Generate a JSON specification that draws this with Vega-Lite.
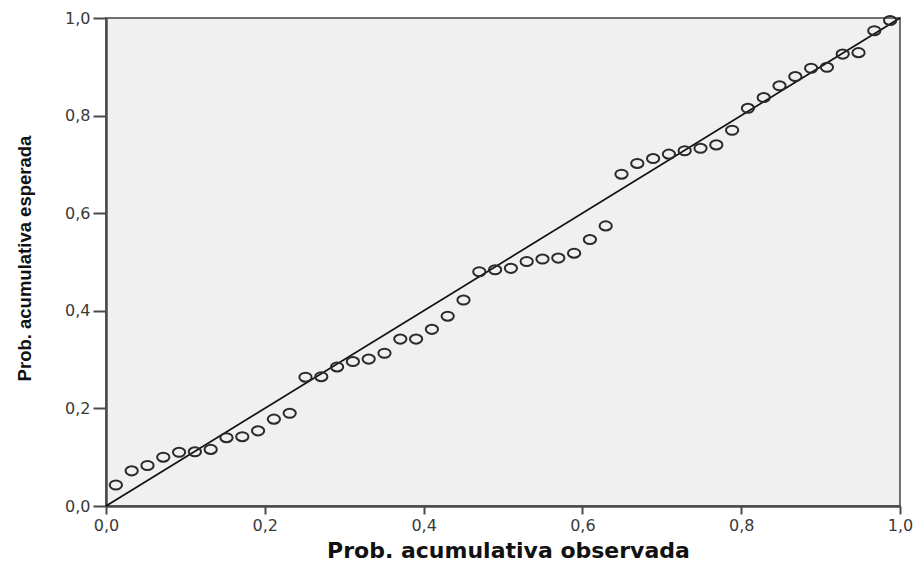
{
  "$schema": "https://vega.github.io/schema/vega-lite/v6.json",
  "width": 794,
  "height": 488,
  "autosize": {"type": "none"},
  "padding": {"left": 106, "top": 18, "right": 14, "bottom": 56},
  "background": "white",
  "config": {
    "view": {"fill": "#F0F0F0", "stroke": "#707070", "strokeWidth": 2},
    "axis": {
      "grid": false,
      "labelFont": "DejaVu Sans",
      "labelFontSize": 16,
      "labelColor": "#3a3a3a",
      "domainColor": "#4a4a4a",
      "domainWidth": 2.5,
      "tickColor": "#4a4a4a",
      "tickWidth": 2,
      "titleColor": "#111111"
    }
  },
  "layer": [
    {
      "data": {"values": [{"px": 0, "py": 0}, {"px": 1, "py": 1}]},
      "mark": {"type": "line", "color": "#111111", "strokeWidth": 1.7},
      "encoding": {
        "x": {"field": "px", "type": "quantitative"},
        "y": {"field": "py", "type": "quantitative"}
      }
    },
    {
      "data": {"values": [
        {"obs": 0.01244, "esp": 0.043},
        {"obs": 0.03234, "esp": 0.072},
        {"obs": 0.05224, "esp": 0.083},
        {"obs": 0.07214, "esp": 0.100},
        {"obs": 0.09204, "esp": 0.110},
        {"obs": 0.11194, "esp": 0.111},
        {"obs": 0.13184, "esp": 0.116},
        {"obs": 0.15174, "esp": 0.140},
        {"obs": 0.17164, "esp": 0.142},
        {"obs": 0.19154, "esp": 0.154},
        {"obs": 0.21144, "esp": 0.178},
        {"obs": 0.23134, "esp": 0.190},
        {"obs": 0.25124, "esp": 0.264},
        {"obs": 0.27114, "esp": 0.265},
        {"obs": 0.29104, "esp": 0.285},
        {"obs": 0.31095, "esp": 0.296},
        {"obs": 0.33085, "esp": 0.301},
        {"obs": 0.35075, "esp": 0.313},
        {"obs": 0.37065, "esp": 0.342},
        {"obs": 0.39055, "esp": 0.342},
        {"obs": 0.41045, "esp": 0.362},
        {"obs": 0.43035, "esp": 0.389},
        {"obs": 0.45025, "esp": 0.422},
        {"obs": 0.47015, "esp": 0.480},
        {"obs": 0.49005, "esp": 0.484},
        {"obs": 0.50995, "esp": 0.487},
        {"obs": 0.52985, "esp": 0.501},
        {"obs": 0.54975, "esp": 0.506},
        {"obs": 0.56965, "esp": 0.508},
        {"obs": 0.58955, "esp": 0.518},
        {"obs": 0.60945, "esp": 0.546},
        {"obs": 0.62935, "esp": 0.574},
        {"obs": 0.64925, "esp": 0.680},
        {"obs": 0.66915, "esp": 0.702},
        {"obs": 0.68905, "esp": 0.712},
        {"obs": 0.70896, "esp": 0.721},
        {"obs": 0.72886, "esp": 0.728},
        {"obs": 0.74876, "esp": 0.733},
        {"obs": 0.76866, "esp": 0.740},
        {"obs": 0.78856, "esp": 0.770},
        {"obs": 0.80846, "esp": 0.815},
        {"obs": 0.82836, "esp": 0.837},
        {"obs": 0.84826, "esp": 0.861},
        {"obs": 0.86816, "esp": 0.880},
        {"obs": 0.88806, "esp": 0.897},
        {"obs": 0.90796, "esp": 0.899},
        {"obs": 0.92786, "esp": 0.926},
        {"obs": 0.94776, "esp": 0.929},
        {"obs": 0.96766, "esp": 0.974},
        {"obs": 0.98756, "esp": 0.995}
      ]},
      "mark": {
        "type": "point",
        "shape": "M -1 0 A 1 0.74 0 1 1 1 0 A 1 0.74 0 1 1 -1 0 Z",
        "size": 150,
        "filled": false,
        "stroke": "#2a2a2a",
        "strokeWidth": 2,
        "opacity": 1,
        "clip": false
      },
      "encoding": {
        "x": {
          "field": "obs",
          "type": "quantitative",
          "scale": {"domain": [0, 1], "nice": false},
          "axis": {
            "title": "Prob. acumulativa observada",
            "values": [0, 0.2, 0.4, 0.6, 0.8, 1.0],
            "labelExpr": "replace(format(datum.value, '.1f'), '.', ',')",
            "tickSize": 8,
            "labelPadding": 3,
            "labelFlush": false,
            "titleFont": "DejaVu Sans",
            "titleFontSize": 22,
            "titleFontWeight": "bold",
            "titleX": 402,
            "titleY": 51,
            "titleBaseline": "alphabetic",
            "titleAlign": "center"
          }
        },
        "y": {
          "field": "esp",
          "type": "quantitative",
          "scale": {"domain": [0, 1], "nice": false},
          "axis": {
            "title": "Prob. acumulativa esperada",
            "values": [0, 0.2, 0.4, 0.6, 0.8, 1.0],
            "labelExpr": "replace(format(datum.value, '.1f'), '.', ',')",
            "tickSize": 13,
            "labelPadding": 3,
            "labelFlush": false,
            "titleFont": "Liberation Sans",
            "titleFontSize": 18.5,
            "titleFontWeight": "bold",
            "titleAngle": -90,
            "titleX": -82,
            "titleY": 240,
            "titleAlign": "center",
            "titleBaseline": "middle"
          }
        }
      }
    }
  ]
}
